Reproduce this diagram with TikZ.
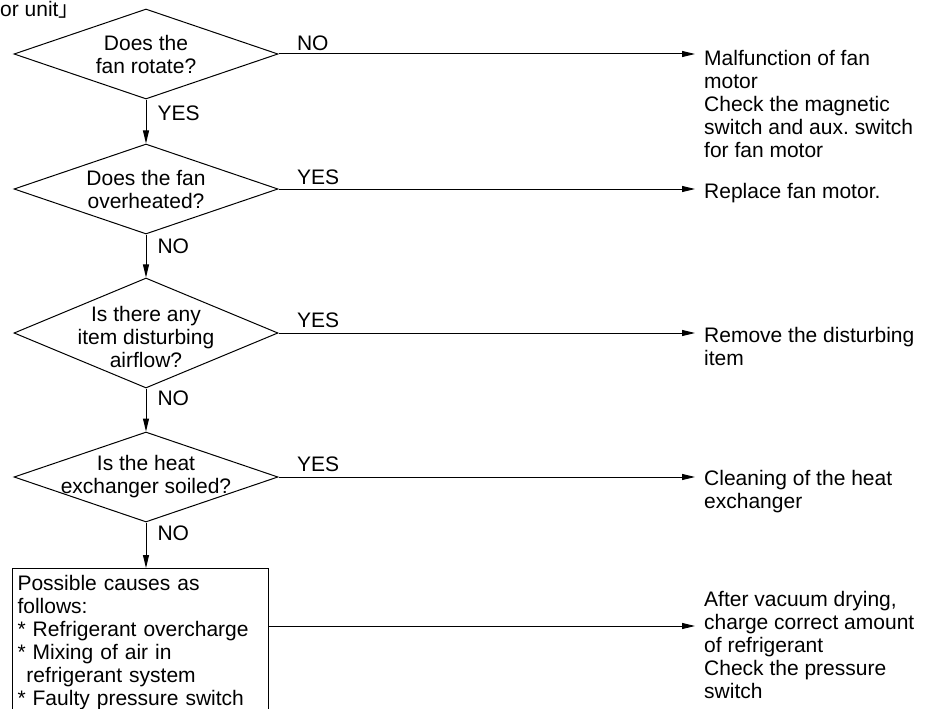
\documentclass[tikz,border=0pt]{standalone}
\usepackage{fontspec}
\setmainfont{Liberation Sans}
\newfontfamily\cjk{Noto Sans CJK JP}
\usetikzlibrary{arrows.meta, shapes.geometric}
\frenchspacing

\tikzset{
  decision/.style={diamond, draw, line width=1pt, minimum width=264pt, minimum height=90pt, inner sep=0pt},
  causebox/.style={rectangle, draw, line width=1pt, anchor=north west, text width=246pt, align=left, inner xsep=5pt, inner ysep=7pt},
  action/.style={align=left, anchor=north west, inner xsep=9pt, inner ysep=0pt},
  ans/.style={inner sep=0pt},
  arr/.style={-{Triangle[length=13pt,width=6pt]}, line width=1pt},
}

\begin{document}
\begin{tikzpicture}[x=1pt, y=-1pt, font=\fontsize{21}{23}\selectfont]
  \useasboundingbox (0,0) rectangle (929,709);
  % heading, cut off at the left edge
  \node[anchor=base west, inner sep=0pt] (title) at (0,16.5) {or unit{\cjk 」}};

  % questions
  \node[decision, label={[align=center]center:Does the\\fan rotate?}] (q1) at (146,54) {};
  \node[decision, label={[align=center]center:Does the fan\\overheated?}] (q2) at (146,189) {};
  \node[decision, minimum height=110pt, label={[align=center, yshift=-4pt]center:Is there any\\item disturbing\\airflow?}] (q3) at (146,333) {};
  \node[decision, label={[align=center]center:Is the heat\\exchanger soiled?}] (q4) at (146,477) {};

  % causes, box runs past the bottom edge
  \node[causebox] (cause) at (12,568) {Possible causes as\\follows:\\{*} Refrigerant overcharge\\{*} Mixing of air in\\\hspace*{9pt}refrigerant system\\{*} Faulty pressure switch};

  % remedies
  \node[action] (a1) at (695,50) {Malfunction of fan\\motor\\Check the magnetic\\switch and aux. switch\\for fan motor};
  \node[action] (a2) at (695,183) {Replace fan motor.};
  \node[action] (a3) at (695,327) {Remove the disturbing\\item};
  \node[action] (a4) at (695,470) {Cleaning of the heat\\exchanger};
  \node[action] (a5) at (695,591) {After vacuum drying,\\charge correct amount\\of refrigerant\\Check the pressure\\switch};

  % down the chart
  \draw[arr] (q1) -- (q2) node[ans, pos=0, anchor=north west, xshift=11pt, yshift=-6pt] {YES};
  \draw[arr] (q2) -- (q3) node[ans, pos=0, anchor=north west, xshift=11pt, yshift=-4pt] {NO};
  \draw[arr] (q3) -- (q4) node[ans, pos=0, anchor=north west, xshift=11pt, yshift=-2pt] {NO};
  \draw[arr] (q4.south) -- (q4.south |- cause.north) node[ans, pos=0, anchor=north west, xshift=11pt, yshift=-3pt] {NO};

  % across to the remedies
  \draw[arr] (q1.east) -- (q1.east -| a1.west) node[ans, pos=0, anchor=south west, xshift=18pt, yshift=3pt] {NO};
  \draw[arr] (q2.east) -- (q2.east -| a2.west) node[ans, pos=0, anchor=south west, xshift=18pt, yshift=4pt] {YES};
  \draw[arr] (q3.east) -- (q3.east -| a3.west) node[ans, pos=0, anchor=south west, xshift=18pt, yshift=5pt] {YES};
  \draw[arr] (q4.east) -- (q4.east -| a4.west) node[ans, pos=0, anchor=south west, xshift=18pt, yshift=5pt] {YES};
  \coordinate (c5) at ([yshift=-58pt]cause.north east);
  \draw[arr] (c5) -- (c5 -| a5.west);
\end{tikzpicture}
\end{document}
